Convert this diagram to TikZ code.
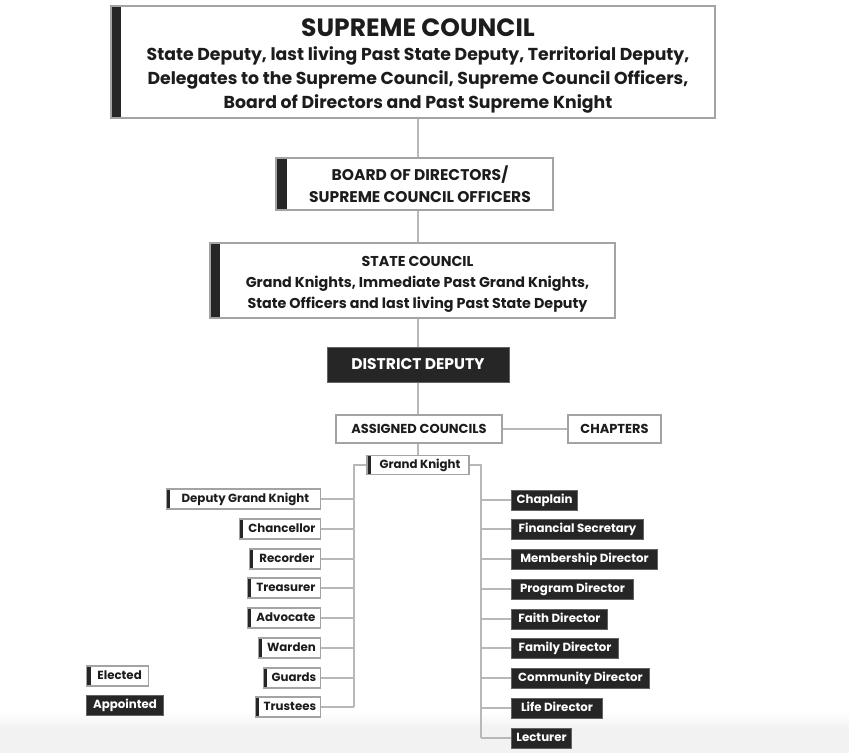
\documentclass[tikz,border=0pt]{standalone}
\usepackage{fontspec}
\setmainfont{Poppins}
\definecolor{bordergray}{HTML}{A3A3A3}
\definecolor{linegray}{HTML}{B8B8B8}
\definecolor{darkfill}{HTML}{262626}
\definecolor{textdark}{HTML}{1C1C1C}
\definecolor{stripgray}{HTML}{F2F2F2}
\begin{document}
\begin{tikzpicture}[x=1pt,y=-1pt,
  box/.style={draw=bordergray, line width=1.2pt, fill=white, inner sep=0pt, align=center, text=textdark, font=\bfseries},
  bar/.style={path picture={\fill[darkfill] (path picture bounding box.north west) rectangle ([xshift=#1]path picture bounding box.south west);}},
  darkbox/.style={draw=bordergray!60!black, line width=1pt, fill=darkfill, inner sep=0pt, align=center, text=white, font=\bfseries},
  small/.style={font=\bfseries\fontsize{11.8}{13}\selectfont, minimum height=20, text height=8.6pt, text depth=2.6pt},
  conn/.style={draw=linegray, line width=1.6pt}]
\useasboundingbox (0,0) rectangle (849,753);
\shade[top color=white, bottom color=stripgray] (0,712) rectangle (849,728);
\fill[stripgray] (0,728) rectangle (849,753);

% main column
\node[box, bar=10, minimum width=604, minimum height=112, font=\bfseries\fontsize{17.3}{24}\selectfont] (sc) at (413,62)
  {\hspace*{10pt}\rule{0pt}{25pt}{\fontsize{25}{26}\selectfont SUPREME COUNCIL}\\
   \hspace*{10pt}State Deputy, last living Past State Deputy, Territorial Deputy,\\
   \hspace*{10pt}Delegates to the Supreme Council, Supreme Council Officers,\\
   \hspace*{10pt}Board of Directors and Past Supreme Knight};
\node[box, bar=11, minimum width=277, minimum height=52, font=\bfseries\fontsize{15.5}{22}\selectfont] (bod) at (414.5,184)
  {\hspace*{11pt}BOARD OF DIRECTORS/\\ \hspace*{11pt}SUPREME COUNCIL OFFICERS};
\node[box, bar=10, minimum width=405, minimum height=75, font=\bfseries\fontsize{14.3}{21}\selectfont] (stc) at (412.5,280.5)
  {\hspace*{10pt}\rule{0pt}{17pt}STATE COUNCIL\\ \hspace*{10pt}Grand Knights, Immediate Past Grand Knights,\\ \hspace*{10pt}State Officers and last living Past State Deputy};
\node[darkbox, minimum width=182, minimum height=35, font=\bfseries\fontsize{15.5}{17}\selectfont] (dd) at (418,364.5) {DISTRICT DEPUTY};
\node[box, minimum width=166, minimum height=28, font=\bfseries\fontsize{13}{15}\selectfont] (ac) at (419,429) {ASSIGNED COUNCILS};
\node[box, minimum width=93, minimum height=28, font=\bfseries\fontsize{13}{15}\selectfont] (ch) at (614.5,429) {CHAPTERS};
\node[box, bar=4, small, minimum width=102, minimum height=19] (gk) at (418,465) {\hspace*{4pt}Grand Knight};

\coordinate (lc) at (354,0);
\coordinate (rc) at (481,0);

\draw[conn] (sc.south -| dd) -- (bod.north -| dd);
\draw[conn] (bod.south -| dd) -- (stc.north -| dd);
\draw[conn] (stc.south -| dd) -- (dd.north);
\draw[conn] (dd.south) -- (ac.north -| dd);
\draw[conn] (ac.east) -- (ch.west);
\draw[conn] (ac.south -| gk) -- (gk.north);

% elected officers (left)
\foreach \n/\t/\w/\y in {dgk/Deputy Grand Knight/154/499, chn/Chancellor/81/529, rec/Recorder/71/559, tre/Treasurer/73/588, adv/Advocate/73/618, war/Warden/62/648, gua/Guards/57/678, tru/Trustees/65/707}{
  \node[box, bar=4, small, anchor=east, minimum width=\w] (\n) at (321,\y) {\hspace*{4pt}\t};
  \draw[conn] (\n.east) -- (\n.east -| lc);
}
\draw[conn] (gk.west) -| (tru.east -| lc);

% appointed officers (right)
\foreach \n/\t/\w/\y in {chp/Chaplain/66/500, fin/Financial Secretary/132/529, mem/Membership Director/146/559, pro/Program Director/122/589, fai/Faith Director/96/619, fam/Family Director/107/648, com/Community Director/138/678, lif/Life Director/91/708, lec/Lecturer/60/738}{
  \node[darkbox, small, anchor=west, minimum width=\w] (\n) at (511,\y) {\t};
  \draw[conn] (\n.west) -- (\n.west -| rc);
}
\draw[conn] (gk.east) -| (lec.west -| rc);

% legend
\node[box, bar=4, small, anchor=west, minimum width=62] (el) at (86,676) {\hspace*{4pt}Elected};
\node[darkbox, small, anchor=west, minimum width=77] (ap) at (86,705) {Appointed};
\end{tikzpicture}
\end{document}
